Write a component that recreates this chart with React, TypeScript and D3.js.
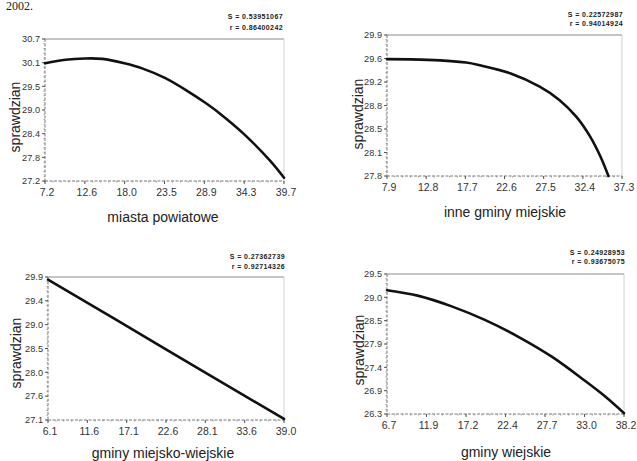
import React from "react";
import * as d3 from "d3";

// ---------- data ----------
const p1X = [7.2, 10.0, 12.6, 15.0, 18.0, 20.5, 23.5, 26.9, 28.9, 31.0, 34.3, 37.8, 39.7];
const p1Y = [30.1, 30.19, 30.22, 30.21, 30.1, 29.97, 29.74, 29.38, 29.14, 28.86, 28.35, 27.7, 27.28];
const p1XTicks = ["7.2", "12.6", "18.0", "23.5", "28.9", "34.3", "39.7"];
const p1YTicks = ["27.2", "27.8", "28.4", "29.0", "29.5", "30.1", "30.7"];

const p2X = [7.9, 13.0, 17.8, 19.5, 23.3, 27.0, 29.5, 31.6, 33.3, 34.6, 35.6];
const p2Y = [29.54, 29.53, 29.49, 29.45, 29.33, 29.13, 28.93, 28.68, 28.39, 28.09, 27.8];
const p2XTicks = ["7.9", "12.8", "17.7", "22.6", "27.5", "32.4", "37.3"];
const p2YTicks = ["27.8", "28.1", "28.5", "28.8", "29.2", "29.6", "29.9"];

const p3X = [6.1, 22.6, 39.0];
const p3Y = [29.85, 28.48, 27.12];
const p3XTicks = ["6.1", "11.6", "17.1", "22.6", "28.1", "33.6", "39.0"];
const p3YTicks = ["27.1", "27.6", "28.0", "28.5", "29.0", "29.4", "29.9"];

const p4X = [6.7, 10.9, 15.3, 19.7, 24.1, 28.6, 33.0, 35.7, 38.2];
const p4Y = [29.13, 29.0, 28.76, 28.45, 28.07, 27.61, 27.06, 26.7, 26.32];
const p4XTicks = ["6.7", "11.9", "17.2", "22.4", "27.7", "33.0", "38.2"];
const p4YTicks = ["26.3", "26.9", "27.4", "27.9", "28.5", "29.0", "29.5"];

const xTitles = ["miasta powiatowe", "inne gminy miejskie", "gminy miejsko-wiejskie", "gminy wiejskie"];
const yTitle = "sprawdzian";
const statS = ["S = 0.53951067", "S = 0.22572987", "S = 0.27362739", "S = 0.24928953"];
const statR = ["r = 0.86400242", "r = 0.94014924", "r = 0.92714326", "r = 0.93675075"];
const headerText = "2002.";

const FONT = "'Liberation Sans', Arial, sans-serif";

type PanelProps = {
  xs: number[];
  ys: number[];
  xTicks: string[];
  yTicks: string[];
  xTitle: string;
  s: string;
  r: string;
  box: { l: number; r: number; t: number; b: number };
  stat: { x: number; y1: number; y2: number };
  xTitlePos: { x: number; y: number };
  yTitlePos: { x: number; y: number };
};

function Panel(p: PanelProps) {
  const { box } = p;
  const x0 = +p.xTicks[0];
  const x1 = +p.xTicks[p.xTicks.length - 1];
  const y0 = +p.yTicks[0];
  const y1 = +p.yTicks[p.yTicks.length - 1];
  const x = d3.scaleLinear().domain([x0, x1]).range([box.l, box.r]);
  const y = d3.scaleLinear().domain([y0, y1]).range([box.b, box.t]);
  const n = p.xTicks.length - 1;
  const xTickVals = d3.range(n + 1).map((i) => x0 + (i * (x1 - x0)) / n);
  const m = p.yTicks.length - 1;
  const yTickVals = d3.range(m + 1).map((i) => y0 + (i * (y1 - y0)) / m);
  const line = d3
    .line<number>()
    .x((_, i) => x(p.xs[i]))
    .y((d) => y(d))
    .curve(d3.curveCatmullRom.alpha(0.5));
  const minorX = d3.range(n * 5 + 1).map((i) => x0 + (i * (x1 - x0)) / (n * 5));
  const minorY = d3.range(m * 5 + 1).map((i) => y0 + (i * (y1 - y0)) / (m * 5));
  return (
    <g>
      <line x1={box.l} x2={box.r} y1={box.t} y2={box.t} stroke="#8a8a8a" strokeWidth={1} />
      <line x1={box.r} x2={box.r} y1={box.t} y2={box.b} stroke="#d0d0d0" strokeWidth={1} />
      <line x1={box.l} x2={box.l} y1={box.t} y2={box.b} stroke="#777" strokeWidth={1} strokeDasharray="3,1.5" />
      <line x1={box.l} x2={box.r} y1={box.b} y2={box.b} stroke="#777" strokeWidth={1} strokeDasharray="3,1.5" />
      {minorY.map((v, i) => (
        <line key={"my" + i} x1={box.l - 1.5} x2={box.l} y1={y(v)} y2={y(v)} stroke="#888" strokeWidth={0.8} />
      ))}
      {minorX.map((v, i) => (
        <line key={"mx" + i} x1={x(v)} x2={x(v)} y1={box.b} y2={box.b + 1.5} stroke="#888" strokeWidth={0.8} />
      ))}
      {yTickVals.map((v, i) => (
        <g key={"yt" + i}>
          <line x1={box.l - 3} x2={box.l} y1={y(v)} y2={y(v)} stroke="#555" strokeWidth={1} />
          <text x={box.l - 5} y={y(v) + 3.3} textAnchor="end" fontSize={9.2} fill="#333" fontFamily={FONT}>
            {p.yTicks[i]}
          </text>
        </g>
      ))}
      {xTickVals.map((v, i) => (
        <g key={"xt" + i}>
          <line x1={x(v)} x2={x(v)} y1={box.b} y2={box.b + 3} stroke="#555" strokeWidth={1} />
          <text x={x(v) + 2} y={box.b + 15} textAnchor="middle" fontSize={10.5} fill="#333" fontFamily={FONT}>
            {p.xTicks[i]}
          </text>
        </g>
      ))}
      <path d={line(p.ys) || ""} fill="none" stroke="#111" strokeWidth={2.6} strokeLinecap="round" />
      <text x={p.stat.x} y={p.stat.y1} textAnchor="end" fontSize={7} letterSpacing={0.4} fontWeight="bold" fill="#222" fontFamily={FONT}>
        {p.s}
      </text>
      <text x={p.stat.x} y={p.stat.y2} textAnchor="end" fontSize={7} letterSpacing={0.4} fontWeight="bold" fill="#222" fontFamily={FONT}>
        {p.r}
      </text>
      <text x={p.xTitlePos.x} y={p.xTitlePos.y} textAnchor="middle" fontSize={14} fill="#222" fontFamily={FONT}>
        {p.xTitle}
      </text>
      <text
        transform={`translate(${p.yTitlePos.x},${p.yTitlePos.y}) rotate(-90)`}
        textAnchor="middle"
        fontSize={14}
        fill="#222"
        fontFamily={FONT}
      >
        {yTitle}
      </text>
    </g>
  );
}

export default function App() {
  return (
    <svg width={637} height={461} style={{ position: "absolute", left: 0, top: 0, background: "#fff" }}>
      <rect width={637} height={461} fill="#fff" />
      <text x={6} y={10} fontSize={12} fontFamily="'Liberation Serif', 'Times New Roman', serif" fill="#222">
        {headerText}
      </text>
      <Panel
        xs={p1X}
        ys={p1Y}
        xTicks={p1XTicks}
        yTicks={p1YTicks}
        xTitle={xTitles[0]}
        s={statS[0]}
        r={statR[0]}
        box={{ l: 45, r: 284, t: 39, b: 181 }}
        stat={{ x: 283, y1: 18.5, y2: 30 }}
        xTitlePos={{ x: 163, y: 222 }}
        yTitlePos={{ x: 20, y: 117 }}
      />
      <Panel
        xs={p2X}
        ys={p2Y}
        xTicks={p2XTicks}
        yTicks={p2YTicks}
        xTitle={xTitles[1]}
        s={statS[1]}
        r={statR[1]}
        box={{ l: 387, r: 622, t: 35, b: 176 }}
        stat={{ x: 623, y1: 16.5, y2: 25.5 }}
        xTitlePos={{ x: 505, y: 217 }}
        yTitlePos={{ x: 363, y: 114 }}
      />
      <Panel
        xs={p3X}
        ys={p3Y}
        xTicks={p3XTicks}
        yTicks={p3YTicks}
        xTitle={xTitles[2]}
        s={statS[2]}
        r={statR[2]}
        box={{ l: 48, r: 284, t: 277, b: 420 }}
        stat={{ x: 285, y1: 258.5, y2: 268.5 }}
        xTitlePos={{ x: 163, y: 458 }}
        yTitlePos={{ x: 21, y: 353 }}
      />
      <Panel
        xs={p4X}
        ys={p4Y}
        xTicks={p4XTicks}
        yTicks={p4YTicks}
        xTitle={xTitles[3]}
        s={statS[3]}
        r={statR[3]}
        box={{ l: 387, r: 624, t: 274, b: 414 }}
        stat={{ x: 625, y1: 255, y2: 264 }}
        xTitlePos={{ x: 506, y: 457 }}
        yTitlePos={{ x: 364, y: 350 }}
      />
    </svg>
  );
}
